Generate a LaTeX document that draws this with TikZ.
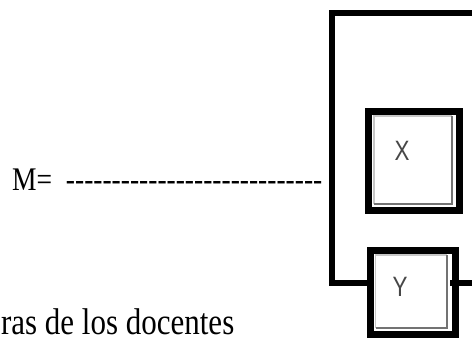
\documentclass[tikz,border=0pt]{standalone}
\usepackage{fontspec}
\usepackage{graphicx}
\setmainfont{Liberation Serif}
\newfontfamily\keyfont{Liberation Sans}
\newcommand\hyph{-\kern0pt}
\begin{document}
\begin{tikzpicture}[x=1pt,y=-1pt,
  wire/.style={line width=6pt,line join=miter},
  keybox/.style={draw,line width=7pt,inner sep=0pt,outer sep=0pt,minimum width=#1,
    path picture={
      \draw[black!22,line width=1.2pt]
        ([xshift=5.5pt,yshift=7pt]path picture bounding box.south west)
        |- ([xshift=-8pt,yshift=-4.5pt]path picture bounding box.north east);
      \draw[black!55,line width=2pt]
        ([xshift=5.5pt,yshift=7pt]path picture bounding box.south west)
        -| ([xshift=-8pt,yshift=-4.5pt]path picture bounding box.north east);
    }},
  keylabel/.style={font=\keyfont\fontsize{28}{28}\selectfont,text=black!72,inner sep=0pt},
  serif/.style={font=\fontsize{#1}{#1}\selectfont,inner sep=0pt}
]
\useasboundingbox (0,0) rectangle (472,338);

% the two keys
\node[keybox=91pt,minimum height=99pt] (X) at (414,161) {};
\node[keybox=85pt,minimum height=84pt] (Y) at (412.5,292.5) {};
\node[keylabel] (xl) at ([shift={(-12pt,10pt)}]X.center) {\scalebox{0.8}[1]{X}};
\node[keylabel] (yl) at ([shift={(-12.5pt,5.5pt)}]Y.center) {\scalebox{0.8}[1]{Y}};

% wiring round the keys
\coordinate (topR) at (472,13);
\coordinate (bend) at (332,283);
\coordinate (outR) at (475,283);
\draw[wire] (topR) -| (bend) -- ([yshift=9.5pt]Y.west);
\draw[wire] ([yshift=9.5pt,xshift=-5pt]Y.east) -- (outR);

% texts (set a little taller than wide)
\node[serif=27.5,anchor=base west] (mtext) at (12,190)
  {\scalebox{1}[1.2]{M=\kern13.8pt\hyph\hyph\hyph\hyph\hyph\hyph\hyph\hyph\hyph\hyph\hyph\hyph\hyph\hyph\hyph\hyph\hyph\hyph\hyph\hyph\hyph\hyph\hyph\hyph\hyph\hyph\hyph\hyph}};
\node[serif=31,anchor=base east] (foot) at (234.5,334) {\scalebox{1}[1.2]{ras de los docentes}};
\end{tikzpicture}
\end{document}
